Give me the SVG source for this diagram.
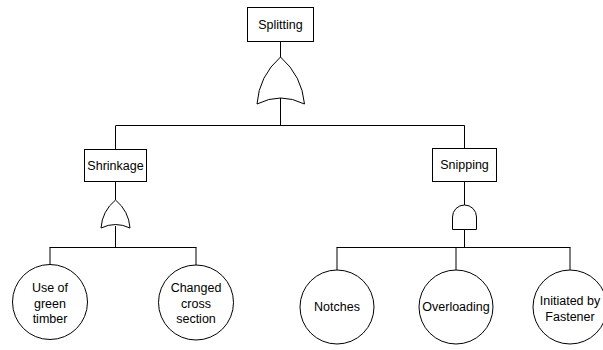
<svg xmlns="http://www.w3.org/2000/svg" width="603" height="350" viewBox="0 0 603 350">
<style>
.box{fill:#fff;stroke:#000;stroke-width:1}
.gate{fill:#fff;stroke:#000;stroke-width:1}
.ev{fill:#fff;stroke:#000;stroke-width:1}
.ln{fill:none;stroke:#000;stroke-width:1}
text{font-family:"Liberation Sans",Arial,sans-serif;font-size:12.5px;fill:#000;text-anchor:middle}
</style>
<rect width="603" height="350" fill="#fff"/>
<g id="connectors" class="ln">
<path d="M280.5,42 V57 M280.5,98 V125.5 M116,125.5 H464.5 M115.5,125.5 V149 M464.5,125.5 V148"/>
<path d="M115.5,182 V200 M115.5,226 V247.5 M49.5,247.5 H196.5 M50,247.5 V265 M196,247.5 V266.5"/>
<path d="M464.5,182 V205 M464.5,229 V247.5 M336.5,247.5 H570.5 M337,247.5 V270 M456,247.5 V270 M570,247.5 V270"/>
</g>
<g id="splitting">
<rect class="box" x="247.5" y="7.5" width="66" height="34"/>
<text x="280.5" y="29">Splitting</text>
</g>
<g id="gate-or-top">
<path class="gate" d="M257,104 Q259,76 280.5,57 Q302,76 304.5,104 Q280.5,92 257,104 Z"/>
</g>
<g id="shrinkage">
<rect class="box" x="84.5" y="149.5" width="62" height="32"/>
<text x="115.5" y="170">Shrinkage</text>
</g>
<g id="gate-or-shrinkage">
<path class="gate" d="M101,228 Q102.2,211 115.5,200 Q128.8,211 130,228 Q115.5,221 101,228 Z"/>
</g>
<g id="snipping">
<rect class="box" x="432.5" y="148.5" width="64" height="33"/>
<text x="464.5" y="169">Snipping</text>
</g>
<g id="gate-and-snipping">
<path class="gate" d="M452.5,229.5 V217 A12,12 0 0 1 476.5,217 V229.5 Z"/>
</g>
<g id="use-green-timber">
<circle class="ev" cx="50" cy="302" r="37.5"/>
<text x="50" y="291.5">Use of</text>
<text x="50" y="307.5">green</text>
<text x="50" y="322.5">timber</text>
</g>
<g id="changed-cross-section">
<circle class="ev" cx="196" cy="302.5" r="37.5"/>
<text x="196" y="291.5">Changed</text>
<text x="196" y="307.5">cross</text>
<text x="196" y="322.5">section</text>
</g>
<g id="notches">
<circle class="ev" cx="337" cy="307" r="37"/>
<text x="337" y="311">Notches</text>
</g>
<g id="overloading">
<circle class="ev" cx="456" cy="307" r="37"/>
<text x="456" y="311">Overloading</text>
</g>
<g id="initiated-by-fastener">
<circle class="ev" cx="570" cy="307" r="37"/>
<text x="570" y="305">Initiated by</text>
<text x="570" y="321">Fastener</text>
</g>
</svg>
